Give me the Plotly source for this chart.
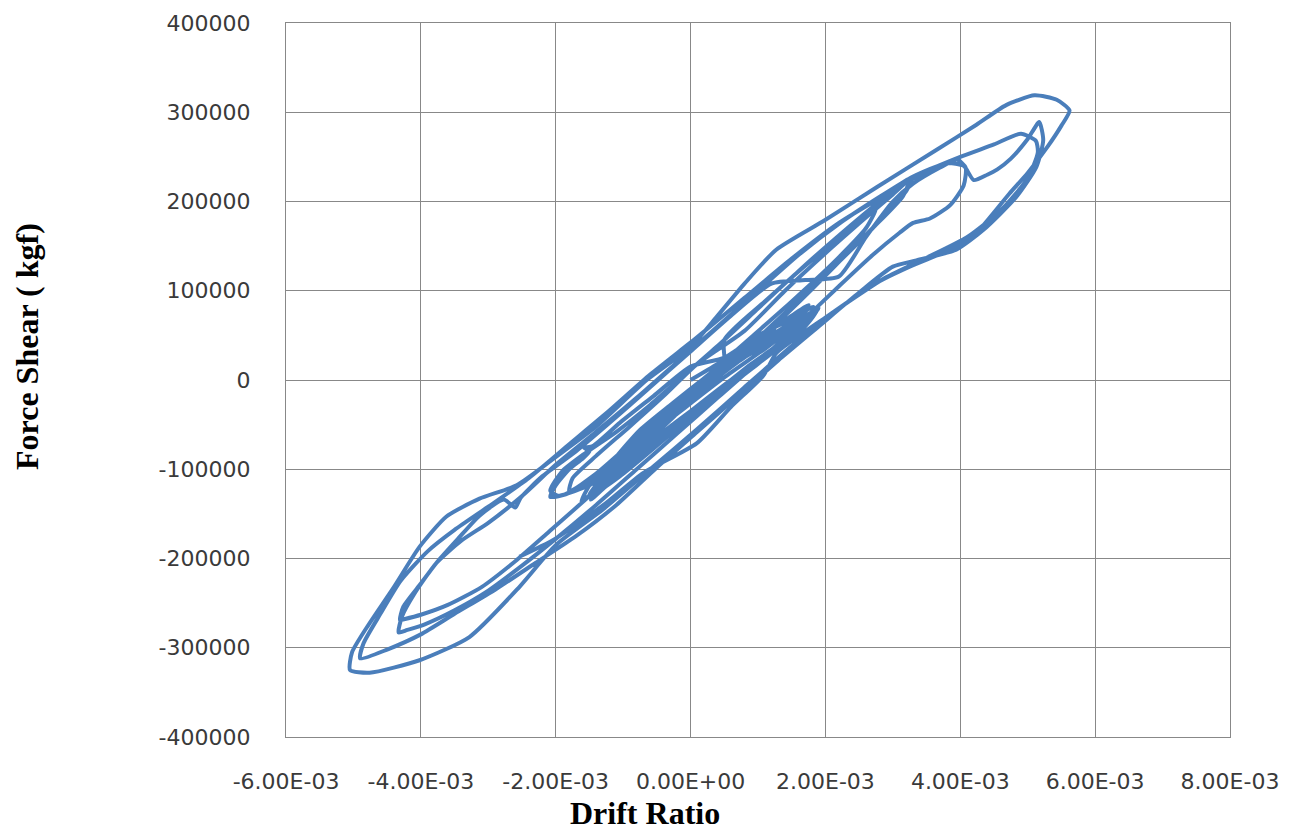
import numpy as np
import plotly.graph_objects as go

# drift values in units of 1e-3, force values in units of 1000 kgf
c1_x = [0, 0.4, 0.9, 1.25, 1.1, 0.6, 0.0, -0.45, -0.75, -0.55, -0.1, 0.45]
c1_y = [0, 18, 42, 58, 45, 15, -20, -45, -62, -50, -20, 12]

c2_x = [0.95, 1.45, 1.8, 1.85, 1.6, 1.1, 0.5, -0.1, -0.6, -0.95, -1.1, -0.9, -0.5, -0.05, 0.4]
c2_y = [38, 62, 76, 80, 63, 35, 3, -32, -62, -88, -100, -82, -52, -22, 8]

c3_x = [0.9, 1.35, 1.75, 1.88, 1.72, 1.25, 0.65, 0.05, -0.5, -0.95, -1.3, -1.48, -1.38, -1.05, -0.55, -0.05, 0.5]
c3_y = [30, 52, 70, 78, 62, 33, 0, -36, -70, -98, -122, -134, -120, -90, -55, -20, 12]

c4_x = [1.05, 1.55, 1.8, 1.6, 1.05, 0.35, -0.35, -0.95, -1.45, -1.85, -2.08, -2.0, -1.8, -1.6, -1.5, -1.58, -1.45, -1.05, -0.55, 0.0]
c4_y = [40, 62, 72, 56, 22, -18, -56, -90, -116, -128, -131, -118, -100, -88, -80, -76, -74, -48, -18, 15]

c5_x = [0.5, 1.0, 1.5, 1.82, 1.78, 1.4, 0.9, 0.3, -0.3, -0.8, -1.2, -1.35, -1.2, -0.8, -0.3, 0.2, 0.7]
c5_y = [25, 50, 68, 82, 70, 45, 18, -18, -52, -82, -108, -118, -98, -68, -35, -5, 22]

c6_x = [1.2, 1.6, 1.9, 1.75, 1.3, 0.75, 0.2, -0.35, -0.85, -1.25, -1.55, -1.62, -1.5, -1.15, -0.7, -0.2, 0.3]
c6_y = [48, 66, 80, 68, 40, 8, -25, -60, -92, -116, -132, -136, -118, -90, -58, -25, 8]

c7_x = [0.6, 1.1, 1.55, 1.85, 1.7, 1.2, 0.6, 0.0, -0.55, -1.0, -1.4, -1.5, -1.3, -0.9, -0.4, 0.1, 0.6]
c7_y = [18, 42, 64, 76, 60, 30, 0, -35, -68, -96, -120, -128, -108, -78, -45, -12, 20]

c8_x = [1.1, 1.5, 1.75, 1.65, 1.2, 0.7, 0.15, -0.4, -0.9, -1.2, -1.1, -0.75, -0.3, 0.2, 0.7]
c8_y = [52, 72, 84, 70, 46, 20, -12, -46, -78, -98, -86, -56, -28, 2, 30]

c9_x = [1.0, 1.4, 1.7, 1.5, 1.0, 0.45, -0.1, -0.6, -1.05, -1.4, -1.3, -0.95, -0.5, 0.0, 0.5]
c9_y = [30, 52, 62, 48, 18, -14, -48, -80, -108, -126, -110, -80, -50, -20, 10]

cM_x = [0.5, 1.1, 1.7, 2.3, 2.75, 2.6, 2.1, 1.5, 0.9, 0.3, -0.3, -0.9, -1.4, -1.8, -1.75, -1.4, -0.9, -0.4, 0.1]
cM_y = [45, 88, 128, 165, 192, 170, 130, 88, 48, 8, -32, -72, -105, -125, -110, -85, -52, -18, 18]

cB_x = [0.8, 1.4, 2.0, 2.6, 3.0, 3.3, 3.2, 2.85, 2.3, 1.75, 1.2, 0.6, 0.0, -0.6, -1.15, -1.6, -1.95,
        -2.08, -1.9, -1.6, -1.1, -0.6, -0.1, 0.4]
cB_y = [55, 100, 142, 182, 208, 228, 212, 182, 140, 98, 58, 18, -22, -62, -95, -118, -130,
        -124, -102, -84, -58, -28, 5, 38]

cC_x = [1.0, 1.6, 2.2, 2.8, 3.25, 3.15, 2.7, 2.1, 1.5, 0.9, 0.3, -0.3, -0.9, -1.5, -2.1, -2.6, -3.1,
        -3.6, -4.0, -4.25, -4.31, -4.26, -4.0, -3.77, -3.45, -3.13, -2.77, -2.6, -2.52, -2.2, -1.7,
        -1.2, -0.6, 0.0, 0.6, 1.2, 1.7, 2.2, 2.6, 3.0, 3.3, 3.7, 3.95, 4.08, 4.05, 3.85, 3.55, 3.3,
        3.1, 2.7, 2.2, 1.6, 1.0, 0.4, -0.2, -0.8, -1.4, -2.0, -2.5, -3.0, -3.5, -3.95, -4.2, -4.33]
cC_y = [80, 122, 162, 200, 226, 206, 170, 125, 82, 40, -2, -45, -88, -130, -170, -203, -232,
        -252, -263, -268, -269, -254, -228, -205, -178, -152, -134, -143, -132, -108, -80,
        -48, -8, 32, 72, 108, 112, 116, 160, 200, 220, 238, 247, 238, 218, 196, 181, 176,
        165, 140, 105, 62, 20, -20, -60, -100, -140, -178, -208, -236, -258, -274, -280, -283]

cD_x = [-4.28, -4.1, -3.77, -3.4, -3.0, -2.5, -2.0, -1.4, -0.8, -0.2, 0.4, 1.0, 1.6, 2.2, 2.8, 3.3,
        3.8, 4.05, 4.2, 4.4, 4.55, 4.75, 5.0, 5.17, 5.23, 5.13, 4.83, 4.34, 3.94, 3.35, 3.0, 2.5,
        1.9, 1.3, 0.7, 0.1, -0.5, -1.1, -1.7, -2.3, -2.9, -3.5, -4.0, -4.5, -4.9]
cD_y = [-265, -240, -205, -180, -160, -130, -95, -58, -20, 20, 60, 100, 140, 175, 205, 228,
        243, 240, 224, 230, 236, 248, 270, 289, 269, 239, 205, 168, 146, 134, 127, 98,
        60, 22, -18, -58, -98, -140, -175, -205, -235, -262, -285, -302, -312]

cE_x = [-4.85, -4.6, -4.3, -3.9, -3.5, -3.0, -2.4, -1.8, -1.2, -0.6, 0.1, 0.8, 1.5, 2.2, 2.9, 3.5,
        4.0, 4.5, 4.9, 5.12, 5.15, 5.0, 4.6, 4.1, 3.5, 2.9, 2.2, 1.5, 0.8, 0.1, -0.6, -1.3, -2.0,
        -2.54, -3.28, -4.02, -4.76, -5.05]
cE_y = [-295, -262, -225, -192, -168, -142, -110, -72, -34, 6, 48, 92, 136, 176, 208, 234,
        250, 264, 276, 268, 255, 226, 190, 160, 137, 115, 80, 38, -8, -55, -100, -145, -185,
        -232, -288, -314, -328, -325]

cG_x = [-5.02, -4.8, -4.4, -4.02, -3.62, -3.13, -2.58, -2.03, -1.4, -0.65, 0.0, 0.39, 0.8, 1.27,
        1.99, 2.76, 3.65, 4.24, 4.68, 5.1, 5.43, 5.62, 5.5, 5.3, 5.0, 4.73, 4.24, 3.94, 3.25, 2.76,
        2.02, 1.27, 1.08, 0.6, 0.09, -0.7, -1.29, -2.03, -2.54]
cG_y = [-305, -277, -232, -187, -153, -133, -118, -88, -52, 0, 37, 71, 108, 146,
        179, 216, 258, 286, 308, 319, 314, 302, 285, 262, 232, 209, 165, 149, 127, 109,
        71, 30, 5, -30, -71, -104, -140, -179, -198]

x_tick_vals = [-6e-3, -4e-3, -2e-3, 0, 2e-3, 4e-3, 6e-3, 8e-3]
x_tick_text = ["-6.00E-03", "-4.00E-03", "-2.00E-03", "0.00E+00", "2.00E-03", "4.00E-03", "6.00E-03", "8.00E-03"]
y_tick_vals = [-400000, -300000, -200000, -100000, 0, 100000, 200000, 300000, 400000]
y_tick_text = ["-400000", "-300000", "-200000", "-100000", "0", "100000", "200000", "300000", "400000"]

xs = [c1_x, c2_x, c3_x, c4_x, c5_x, c6_x, c7_x, c8_x, c9_x, cM_x, cB_x, cC_x, cD_x, cE_x, cG_x]
ys = [c1_y, c2_y, c3_y, c4_y, c5_y, c6_y, c7_y, c8_y, c9_y, cM_y, cB_y, cC_y, cD_y, cE_y, cG_y]
drift = np.concatenate([np.array(v, dtype=float) for v in xs]) * 1e-3
force = np.concatenate([np.array(v, dtype=float) for v in ys]) * 1e3

fig = go.Figure()
fig.add_trace(go.Scatter(x=drift, y=force, mode="lines",
                         line=dict(color="#4A7EBB", width=4, shape="spline", smoothing=0.6),
                         showlegend=False))

grid = "#888888"
tickfont = dict(family="DejaVu Sans", size=22, color="#3a3a3a")
fig.update_xaxes(range=[-6e-3, 8e-3], tickvals=x_tick_vals, ticktext=x_tick_text,
                 showgrid=True, gridcolor=grid, gridwidth=1.4, zeroline=False,
                 showline=True, mirror=True, linecolor=grid, linewidth=1.4,
                 ticks="", tickfont=tickfont, ticklabelstandoff=24)
fig.update_yaxes(range=[-400000, 400000], tickvals=y_tick_vals, ticktext=y_tick_text,
                 showgrid=True, gridcolor=grid, gridwidth=1.4, zeroline=False,
                 showline=True, mirror=True, linecolor=grid, linewidth=1.4,
                 ticks="", tickfont=tickfont, ticklabelstandoff=30)

titlefont = dict(family="Liberation Serif", size=32, color="#000000", weight="bold")
fig.update_layout(
    width=1311, height=831, autosize=False,
    margin=dict(l=286, r=81, t=23, b=94),
    paper_bgcolor="white", plot_bgcolor="white",
    annotations=[
        dict(text="<b>Drift Ratio</b>", xref="paper", yref="paper", x=0.380, y=-0.106,
             xanchor="center", yanchor="middle", showarrow=False, font=titlefont),
        dict(text="<b>Force Shear ( kgf)</b>", xref="paper", yref="paper", x=-0.2744, y=0.5476,
             xanchor="center", yanchor="middle", showarrow=False, textangle=-90, font=titlefont),
    ],
)
fig.write_html("out.html")
